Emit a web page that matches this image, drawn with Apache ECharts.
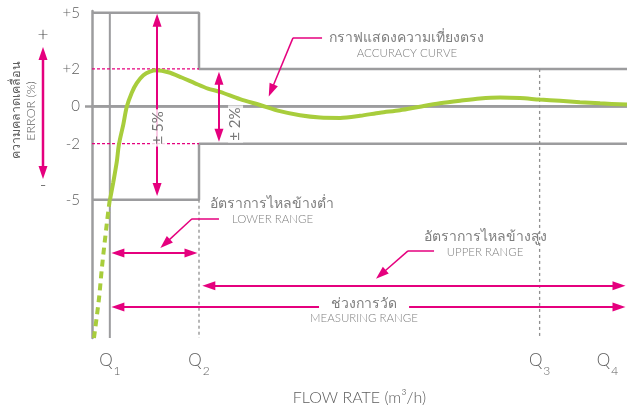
<!DOCTYPE html>
<html><head><meta charset="utf-8">
<script src="https://cdn.jsdelivr.net/npm/echarts@6/dist/echarts.min.js"></script>
<style>html,body{margin:0;padding:0;background:#fff}#c{width:627px;height:408px}</style>
</head><body><div id="c"></div>
<script>
// ---- data ----
const qLabels = ['1', '2', '3', '4'];
const qFlows = [1.0, 6.0, 25.1, 28.9];
const flowMin = 0, flowMax = 30;
const errorTicks = [5, 2, 0, -2, -5];
const lowerRangeLimit = 5;   // ±5 %
const upperRangeLimit = 2;   // ±2 %
const errorMin = -12.4, errorMax = 5.1;
const curveFlow  = [1.01, 1.19, 1.39, 1.51, 1.76, 1.95, 2.23, 2.51, 2.88, 3.25, 3.63, 4.28, 5.03, 5.78, 6.5, 7.18, 8.3, 9.42, 10.54, 11.66, 12.79, 13.91, 15.03, 16.15, 17.27, 18.39, 19.51, 20.64, 21.76, 22.88, 24.0, 25.12, 26.24, 27.36, 28.49, 30];
const curveError = [-5.0, -4.08, -2.97, -2.04, -0.95, -0.03, 0.73, 1.24, 1.66, 1.86, 1.93, 1.82, 1.54, 1.23, 0.95, 0.77, 0.38, 0.07, -0.26, -0.48, -0.6, -0.62, -0.51, -0.34, -0.21, -0.02, 0.16, 0.3, 0.42, 0.47, 0.44, 0.36, 0.3, 0.22, 0.16, 0.09];
const startFlow  = [0.11, 0.39, 0.56, 0.84, 1.01];
const startError = [-12.4, -10.3, -8.6, -6.2, -4.9];

// ---- style ----
const GRAY = '#9c9c9e', PINK = '#e5007e', GREEN = '#a8cd3c', TXT = '#5d5d5d';
const FONT = 'Lato, "Noto Sans", sans-serif';
const FW = 300;

const zip = (a, b) => a.map((v, i) => [v, b[i]]);
const seg = (pts, ls) => ({ type: 'line', data: pts, symbol: 'none', silent: true, animation: false,
  lineStyle: Object.assign({ color: GRAY, width: 2.5 }, ls), z: 2 });

const [Q1, Q2, Q3] = qFlows;
const L = lowerRangeLimit, U = upperRangeLimit;

function arrow(p1, p2, s1, s2, w) {
  return [{ coord: p1, symbol: s1 ? 'triangle' : 'none', lineStyle: { width: w || 2 } },
          { coord: p2, symbol: s2 ? 'triangle' : 'none' }];
}

const markLines = [
  arrow([3.65, 4.6], [3.65, -4.45], true, true),            // ±5 %
  arrow([7.12, 1.5], [7.12, -1.55], true, true),            // ±2 %
  arrow([1.45, -7.85], [5.55, -7.85], true, true),          // lower range
  arrow([6.55, -9.61], [29.55, -9.61], true, true),         // upper range
  arrow([1.45, -10.74], [12.73, -10.74], true, false),      // measuring range (left part)
  arrow([17.78, -10.74], [29.55, -10.74], false, true),     // measuring range (right part)
  arrow([11.27, 3.66], [12.9, 3.66], false, false, 1.5),    // leaders
  arrow([11.27, 3.66], [10.05, 0.85], false, true, 1.5),
  arrow([5.61, -6.02], [7.12, -6.02], false, false, 1.5),
  arrow([5.61, -6.02], [4.1, -7.35], false, true, 1.5),
  arrow([17.72, -7.74], [19.18, -7.74], false, false, 1.5),
  arrow([17.72, -7.74], [16.2, -9.0], false, true, 1.5)
];

const richTxt = {
  th: { fontSize: 14, color: TXT, lineHeight: 16, fontFamily: FONT, fontWeight: FW },
  en: { fontSize: 11.5, color: TXT, lineHeight: 15, fontFamily: FONT, fontWeight: FW }
};
function note(x, y, th, en) {
  return { value: [x, y], label: { formatter: '{th|' + th + '}\n{en|' + en + '}' } };
}
const notes = [
  note(17.66, 3.28, 'กราฟแสดงความเที่ยงตรง', 'ACCURACY CURVE'),
  note(10.12, -5.6, 'อัตราการไหลข้างต่ำ', 'LOWER RANGE'),
  note(22.04, -7.39, 'อัตราการไหลข้างสูง', 'UPPER RANGE'),
  note(15.25, -10.93, 'ช่วงการวัด', 'MEASURING RANGE')
];
const pctNotes = [
  { value: [3.72, -1.16], label: { formatter: '± ' + L + '%' } },
  { value: [8.05, -0.95], label: { formatter: '± ' + U + '%' } }
];

const chart = echarts.init(document.getElementById('c'), null, { renderer: 'canvas' });
chart.setOption({
  animation: false,
  grid: { left: 92, right: 0, top: 11, bottom: 70, outerBoundsMode: 'none', containLabel: false },
  xAxis: {
    type: 'value', min: flowMin, max: flowMax,
    name: 'FLOW RATE (m³/h)', nameLocation: 'middle', nameGap: 52,
    nameTextStyle: { fontSize: 16, color: TXT, fontFamily: FONT, fontWeight: FW },
    axisLine: { show: true, lineStyle: { color: GRAY, width: 2.5 } },
    axisTick: { show: false }, splitLine: { show: false },
    axisLabel: {
      customValues: qFlows, margin: 14,
      formatter: v => '{q|Q}{s|' + qLabels[qFlows.indexOf(v)] + '}',
      rich: { q: { fontSize: 17, color: TXT, fontFamily: FONT, fontWeight: FW, verticalAlign: 'top', lineHeight: 20 },
              s: { fontSize: 12, color: TXT, fontFamily: FONT, fontWeight: FW, verticalAlign: 'bottom', lineHeight: 20, padding: [0, 0, -5, 1] } }
    }
  },
  yAxis: {
    type: 'value', min: errorMin, max: errorMax,
    axisLine: { show: true, lineStyle: { color: GRAY, width: 2.5 } },
    axisTick: { show: true, customValues: [0], length: 7, lineStyle: { color: GRAY, width: 2.5 } },
    splitLine: { show: false },
    axisLabel: { customValues: errorTicks, margin: 12, fontSize: 15, color: TXT, fontFamily: FONT, fontWeight: FW,
      formatter: v => (v > 0 ? '+' + v : '' + v) }
  },
  graphic: [
    { type: 'line', shape: { x1: 43, y1: 56, x2: 43, y2: 170 }, style: { stroke: PINK, lineWidth: 2.5 } },
    { type: 'polygon', shape: { points: [[43, 47], [38.5, 60], [47.5, 60]] }, style: { fill: PINK } },
    { type: 'polygon', shape: { points: [[43, 179], [38.5, 166], [47.5, 166]] }, style: { fill: PINK } },
    { type: 'text', x: 43, y: 35, style: { text: '+', fill: '#444', font: '300 19px ' + FONT, align: 'center', verticalAlign: 'middle' } },
    { type: 'text', x: 43, y: 185, style: { text: '-', fill: '#444', font: '300 18px ' + FONT, align: 'center', verticalAlign: 'middle' } },
    { type: 'text', x: 16, y: 110, rotation: Math.PI / 2,
      style: { text: 'ความคลาดเคลื่อน', fill: TXT, font: '300 12.5px ' + FONT, align: 'center', verticalAlign: 'middle' } },
    { type: 'text', x: 31, y: 111, rotation: Math.PI / 2,
      style: { text: 'ERROR (%)', fill: TXT, font: '300 12.5px ' + FONT, align: 'center', verticalAlign: 'middle' } }
  ],
  series: [
    seg([[flowMin, L], [Q2, L], [Q2, U], [flowMax, U]]),
    seg([[flowMin, -L], [Q2, -L], [Q2, -U], [flowMax, -U]]),
    Object.assign(seg([[flowMin, 0], [flowMax, 0]]), {
      markLine: { silent: true, animation: false, symbolSize: [9, 13], label: { show: false },
        lineStyle: { color: PINK, type: 'solid', width: 2 }, itemStyle: { color: PINK },
        emphasis: { disabled: true }, data: markLines }
    }),
    seg([[Q1, L], [Q1, errorMin]], { width: 2 }),
    seg([[Q2, -L], [Q2, errorMin]], { width: 1.3, type: [3, 3], color: '#8f8f8f' }),
    seg([[Q3, U], [Q3, errorMin]], { width: 1.3, type: [3, 3], color: '#8f8f8f' }),
    seg([[flowMin, U], [Q2, U]], { width: 1.2, type: [3, 2], color: PINK }),
    seg([[flowMin, -U], [Q2, -U]], { width: 1.2, type: [3, 2], color: PINK }),
    { type: 'line', data: zip(startFlow, startError), symbol: 'none', smooth: 0.3, silent: true, z: 3,
      lineStyle: { color: GREEN, width: 4, type: [7, 5] } },
    { type: 'line', data: zip(curveFlow, curveError), symbol: 'none', smooth: 0.3, silent: true, z: 3,
      lineStyle: { color: GREEN, width: 4 } },
    { type: 'scatter', data: notes, symbolSize: 0, silent: true, z: 5,
      label: { show: true, position: 'inside', align: 'center', rich: richTxt } },
    { type: 'scatter', data: pctNotes, symbolSize: 0, silent: true, z: 5,
      label: { show: true, position: 'inside', rotate: 90, fontSize: 15, color: '#555', fontFamily: FONT, fontWeight: 400,
        backgroundColor: '#fff', padding: [0, 2] } }
  ]
});
</script></body></html>
